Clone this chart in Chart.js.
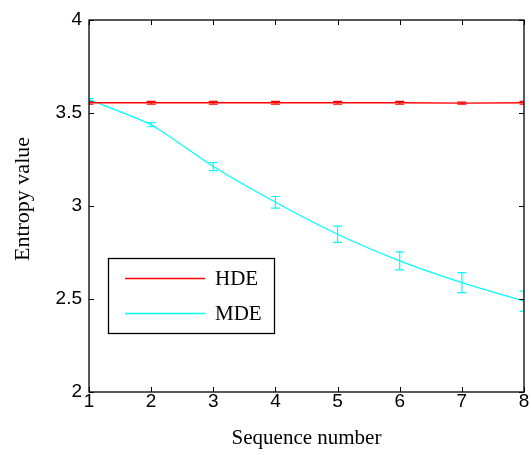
<!DOCTYPE html>
<html>
<head>
<meta charset="utf-8">
<script src="https://cdn.jsdelivr.net/npm/chart.js@4"></script>
<style>
  html, body { margin: 0; padding: 0; background: #fff; }
  #wrap { width: 531px; height: 455px; }
</style>
</head>
<body>
<div id="wrap"><canvas id="entropyChart"></canvas></div>
<script>
// Data
const sequence = [1, 2, 3, 4, 5, 6, 7, 8];
const hdeMean = [3.555, 3.555, 3.555, 3.555, 3.555, 3.555, 3.553, 3.555];
const hdeErr = [0.008, 0.008, 0.008, 0.008, 0.008, 0.008, 0.005, 0.008];
const mdeMean = [3.572, 3.437, 3.212, 3.020, 2.848, 2.705, 2.588, 2.488];
const mdeErr = [0.005, 0.011, 0.022, 0.031, 0.044, 0.048, 0.054, 0.054];
const yTicks = [2, 2.5, 3, 3.5, 4];
const xTicks = [1, 2, 3, 4, 5, 6, 7, 8];

const toPoints = (ys) => sequence.map((x, i) => ({ x: x, y: ys[i] }));
const serif = '21px "Liberation Serif", "Times New Roman", serif';

// error bars, box with inward ticks, legend, axis titles
const matlabStyle = {
    id: 'matlabStyle',
    afterDatasetsDraw(chart) {
        const { ctx, chartArea: a, scales: { x, y } } = chart;
        ctx.save();
        ctx.beginPath();
        ctx.rect(a.left, a.top, a.right - a.left, a.bottom - a.top);
        ctx.clip();
        chart.data.datasets.forEach(ds => {
            ctx.strokeStyle = ds.borderColor;
            ctx.lineWidth = 1.2;
            ds.data.forEach((p, i) => {
                const px = x.getPixelForValue(p.x);
                const top = y.getPixelForValue(p.y + ds.errors[i]);
                const bot = y.getPixelForValue(p.y - ds.errors[i]);
                ctx.beginPath();
                ctx.moveTo(px, top); ctx.lineTo(px, bot);
                ctx.moveTo(px - 4.5, top); ctx.lineTo(px + 4.5, top);
                ctx.moveTo(px - 4.5, bot); ctx.lineTo(px + 4.5, bot);
                ctx.stroke();
            });
        });
        ctx.restore();
    },
    afterDraw(chart) {
        const { ctx, chartArea: a, scales: { x, y } } = chart;
        ctx.save();
        ctx.strokeStyle = '#000';
        ctx.lineWidth = 1.3;
        ctx.strokeRect(a.left, a.top, a.right - a.left, a.bottom - a.top);
        ctx.lineWidth = 1;
        ctx.beginPath();
        xTicks.forEach(v => {
            const px = Math.round(x.getPixelForValue(v)) + 0.5;
            ctx.moveTo(px, a.bottom); ctx.lineTo(px, a.bottom - 5);
            ctx.moveTo(px, a.top); ctx.lineTo(px, a.top + 5);
        });
        yTicks.forEach(v => {
            const py = Math.round(y.getPixelForValue(v)) + 0.5;
            ctx.moveTo(a.left, py); ctx.lineTo(a.left + 5, py);
            ctx.moveTo(a.right, py); ctx.lineTo(a.right - 5, py);
        });
        ctx.stroke();

        // axis titles
        ctx.fillStyle = '#000';
        ctx.font = serif;
        ctx.textAlign = 'center';
        ctx.textBaseline = 'alphabetic';
        ctx.fillText('Sequence number', (a.left + a.right) / 2, 444);
        ctx.save();
        ctx.translate(29, 199);
        ctx.rotate(-Math.PI / 2);
        ctx.font = '22px "Liberation Serif", "Times New Roman", serif';
        ctx.fillText('Entropy value', 0, 0);
        ctx.restore();

        // legend
        const lx = 108.5, ly = 258.5, lw = 166, lh = 75;
        ctx.fillStyle = '#fff';
        ctx.fillRect(lx, ly, lw, lh);
        ctx.strokeStyle = '#000';
        ctx.lineWidth = 1.3;
        ctx.strokeRect(lx, ly, lw, lh);
        ctx.font = serif;
        ctx.textAlign = 'left';
        ctx.textBaseline = 'middle';
        chart.data.datasets.forEach((ds, i) => {
            const cy = Math.round(ly + 19 + i * 35) + 0.5;
            ctx.beginPath();
            ctx.moveTo(125, cy);
            ctx.lineTo(205, cy);
            ctx.lineWidth = 1.3;
            ctx.strokeStyle = ds.borderColor;
            ctx.stroke();
            ctx.fillStyle = '#000';
            ctx.fillText(ds.label, 215, cy + 1);
        });
        ctx.restore();
    }
};

const ctx = document.getElementById('entropyChart').getContext('2d');
new Chart(ctx, {
    type: 'line',
    data: {
        datasets: [
            {
                label: 'HDE',
                data: toPoints(hdeMean),
                errors: hdeErr,
                borderColor: '#ff0000',
                borderWidth: 1.3,
                pointRadius: 0,
                fill: false,
                tension: 0
            },
            {
                label: 'MDE',
                data: toPoints(mdeMean),
                errors: mdeErr,
                borderColor: '#00ffff',
                borderWidth: 1.3,
                pointRadius: 0,
                fill: false,
                tension: 0.2
            }
        ]
    },
    options: {
        responsive: true,
        maintainAspectRatio: false,
        animation: false,
        layout: { padding: { top: 20, right: 7, left: 0, bottom: 0 } },
        plugins: {
            legend: { display: false },
            tooltip: { enabled: false }
        },
        scales: {
            x: {
                type: 'linear',
                min: 1,
                max: 8,
                afterFit: (s) => { s.height = 63; },
                afterBuildTicks: (s) => { s.ticks = xTicks.map(v => ({ value: v })); },
                grid: { display: false, drawTicks: false },
                border: { display: false },
                ticks: {
                    color: '#000',
                    padding: -2,
                    maxRotation: 0,
                    callback: (v) => String(v),
                    font: { family: '"Liberation Sans", Arial, sans-serif', size: 19 }
                }
            },
            y: {
                min: 2,
                max: 4,
                afterFit: (s) => { s.width = 89; },
                afterBuildTicks: (s) => { s.ticks = yTicks.map(v => ({ value: v })); },
                grid: { display: false, drawTicks: false },
                border: { display: false },
                ticks: {
                    color: '#000',
                    padding: 7,
                    callback: (v) => String(v),
                    font: { family: '"Liberation Sans", Arial, sans-serif', size: 19 }
                }
            }
        }
    },
    plugins: [matlabStyle]
});
</script>
</body>
</html>
